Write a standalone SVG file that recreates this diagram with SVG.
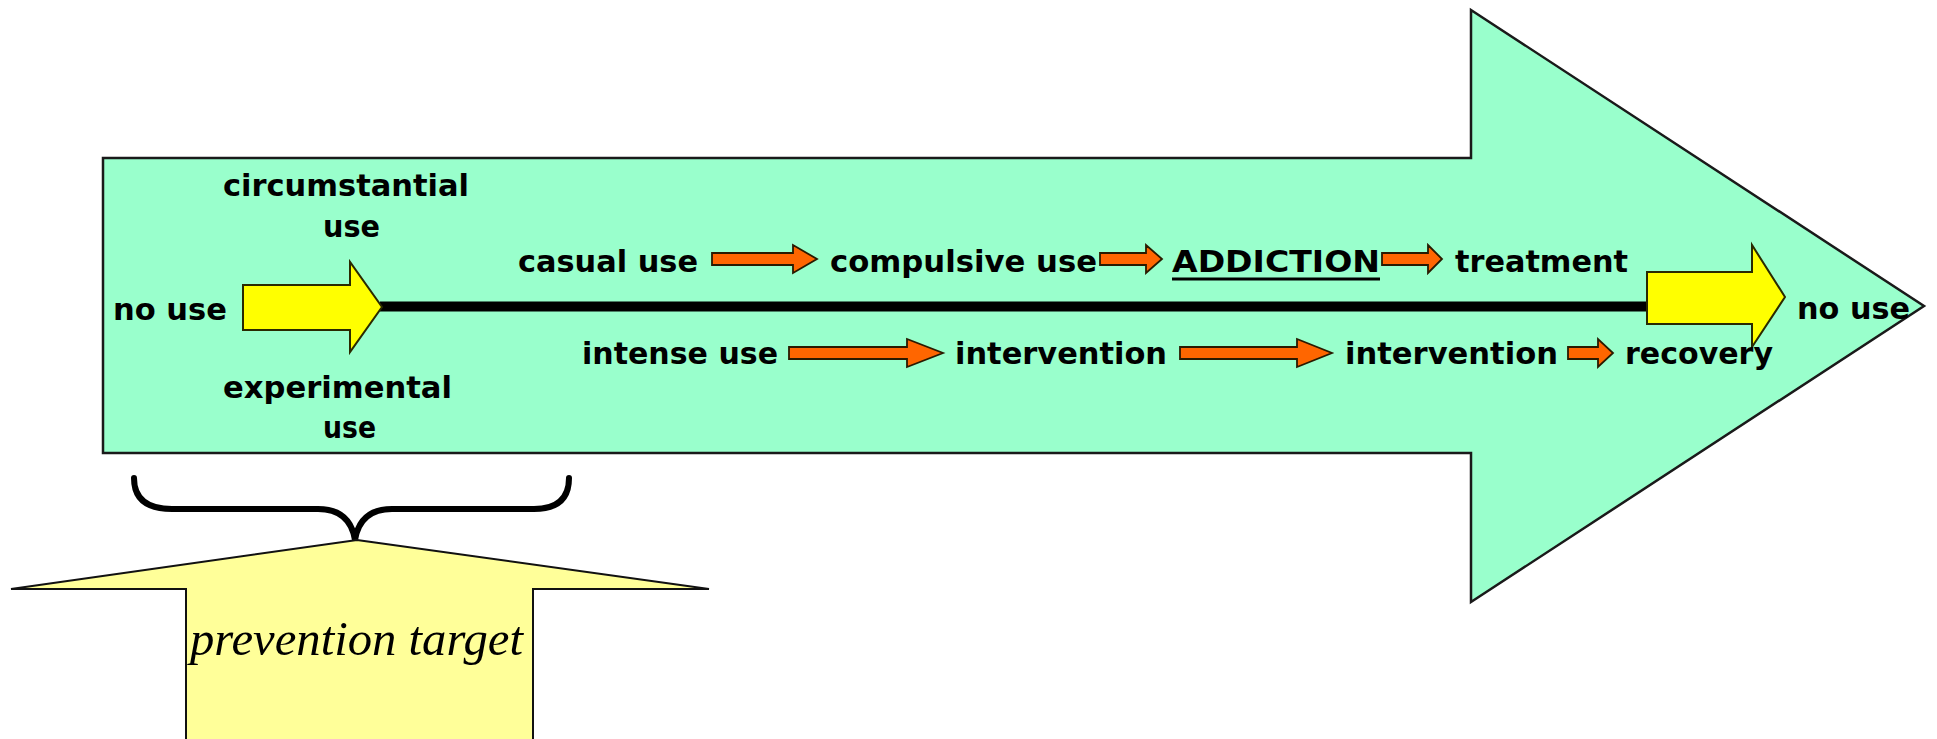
<svg xmlns="http://www.w3.org/2000/svg" width="1937" height="739" viewBox="0 0 1937 739">
<style>
.lbl{font-family:"DejaVu Sans","Liberation Sans",sans-serif;font-weight:bold;font-size:30px;fill:#000}
.orange{fill:#FF6600;stroke:#2a1a00;stroke-width:1.8;stroke-linejoin:miter}
.yellow{fill:#FFFF00;stroke:#2a2a00;stroke-width:2}
</style>
<rect width="1937" height="739" fill="#fff"/>
<g id="main-arrow">
<path d="M103,158 H1471 V10 L1924,306 L1471,602 V453 H103 Z" fill="#99FFCC" stroke="#1a1a1a" stroke-width="2.5" stroke-linejoin="miter"/>
</g>
<g id="connectors">
<line x1="380" y1="306.5" x2="1650" y2="306.5" stroke="#000" stroke-width="10"/>
<path class="yellow" d="M243,285 H350 V262 L382,307 L350,352 V330 H243 Z"/>
<path class="yellow" d="M1647,272 H1752 V245 L1785,297 L1752,347 V324 H1647 Z"/>
<path class="orange" d="M712,253 H793 V245 L817,259 L793,273 V265 H712 Z"/>
<path class="orange" d="M1100,253 H1146 V245 L1162,259 L1146,273 V265 H1100 Z"/>
<path class="orange" d="M1382,253 H1428 V245 L1442,259 L1428,273 V265 H1382 Z"/>
<path class="orange" d="M789,347 H907 V339 L943,353 L907,367 V359 H789 Z"/>
<path class="orange" d="M1180,347 H1297 V339 L1332,353 L1297,367 V359 H1180 Z"/>
<path class="orange" d="M1568,347 H1598 V339 L1613,353 L1598,367 V359 H1568 Z"/>
</g>
<g id="left-labels">
<text class="lbl" x="223" y="196" textLength="246" lengthAdjust="spacingAndGlyphs">circumstantial</text>
<text class="lbl" x="323" y="237" textLength="57" lengthAdjust="spacingAndGlyphs">use</text>
<text class="lbl" x="113" y="320" textLength="114" lengthAdjust="spacingAndGlyphs">no use</text>
<text class="lbl" x="223" y="398" textLength="229" lengthAdjust="spacingAndGlyphs">experimental</text>
<text class="lbl" x="323" y="438" textLength="53" lengthAdjust="spacingAndGlyphs">use</text>
</g>
<g id="top-row">
<text class="lbl" x="518" y="272" textLength="180" lengthAdjust="spacingAndGlyphs">casual use</text>
<text class="lbl" x="830" y="272" textLength="267" lengthAdjust="spacingAndGlyphs">compulsive use</text>
<text class="lbl" x="1172" y="272" textLength="208" lengthAdjust="spacingAndGlyphs">ADDICTION</text>
<line x1="1172" y1="279" x2="1380" y2="279" stroke="#000" stroke-width="3"/>
<text class="lbl" x="1455" y="272" textLength="173" lengthAdjust="spacingAndGlyphs">treatment</text>
</g>
<g id="bottom-row">
<text class="lbl" x="582" y="364" textLength="196" lengthAdjust="spacingAndGlyphs">intense use</text>
<text class="lbl" x="955" y="364" textLength="212" lengthAdjust="spacingAndGlyphs">intervention</text>
<text class="lbl" x="1345" y="364" textLength="213" lengthAdjust="spacingAndGlyphs">intervention</text>
<text class="lbl" x="1625" y="364" textLength="148" lengthAdjust="spacingAndGlyphs">recovery</text>
</g>
<g id="end-label">
<text class="lbl" x="1797" y="319" textLength="113" lengthAdjust="spacingAndGlyphs">no use</text>
</g>
<g id="brace">
<path d="M134,478 Q134,509 172,509 L318,509 Q350,509 355,540 Q360,509 392,509 L534,509 Q569,509 569,478" fill="none" stroke="#000" stroke-width="6" stroke-linecap="round" stroke-linejoin="round"/>
</g>
<g id="prevention-target">
<path d="M357,540 L709,589 H533 V745 H186 V589 H11 Z" fill="#FFFF99" stroke="#111" stroke-width="2"/>
<text x="190" y="655" textLength="333" lengthAdjust="spacingAndGlyphs" font-family="'Liberation Serif',serif" font-style="italic" font-size="48" fill="#000">prevention target</text>
</g>
</svg>
